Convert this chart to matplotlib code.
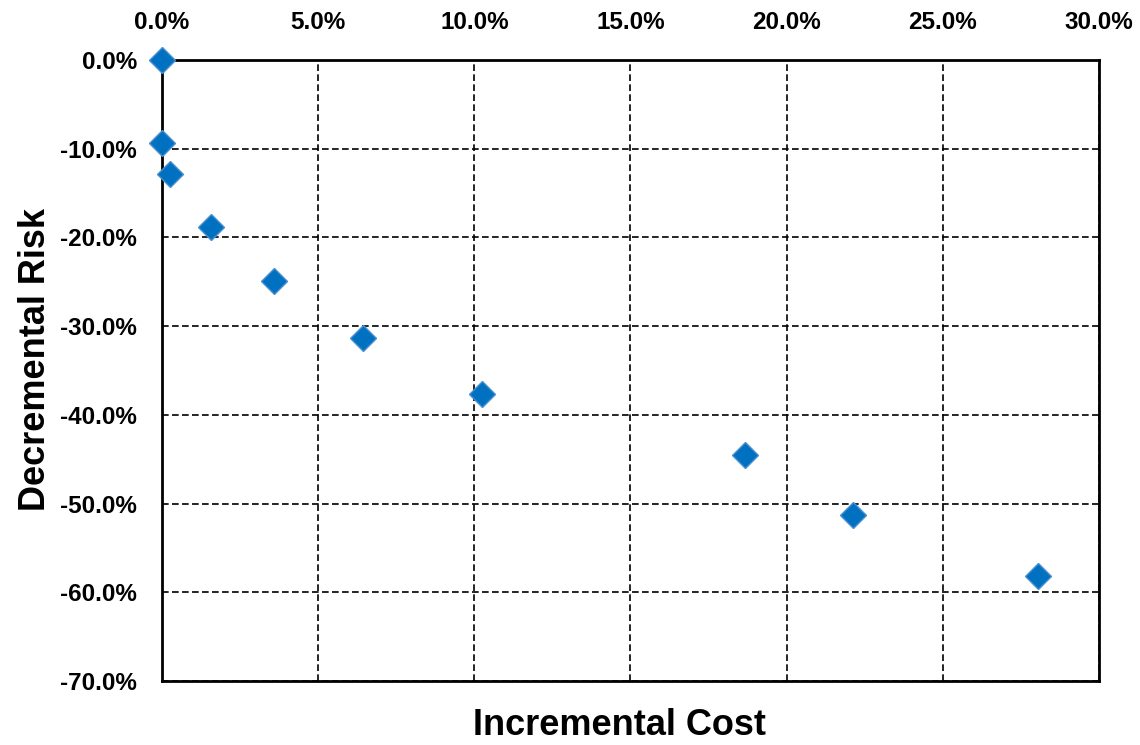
import matplotlib
matplotlib.use("Agg")
import matplotlib.pyplot as plt
from matplotlib.ticker import FuncFormatter

plt.rcParams['font.family'] = ['Liberation Sans', 'DejaVu Sans']

incremental_cost = [0.0, 0.0, 0.26, 1.57, 3.59, 6.44, 10.25, 18.67, 22.13, 28.05]
decremental_risk = [0.0, -9.4, -12.9, -18.8, -24.9, -31.3, -37.7, -44.5, -51.3, -58.2]
x_ticks = [0, 5, 10, 15, 20, 25, 30]
y_ticks = [0, -10, -20, -30, -40, -50, -60, -70]

fig = plt.figure(figsize=(11.4, 7.45), dpi=100)
ax = fig.add_axes([0.1421, 0.0859, 0.8219, 0.8336])

ax.plot(incremental_cost, decremental_risk, linestyle='none', marker='D',
        markersize=13.5, markerfacecolor='#0070C0', markeredgecolor='#4A8FD0',
        markeredgewidth=1.0, clip_on=False, zorder=5)

ax.set_xlim(0, 30)
ax.set_ylim(-70, 0)
ax.set_xticks(x_ticks)
ax.set_yticks(y_ticks)
fmt = FuncFormatter(lambda v, p: f"{v:.1f}%")
ax.xaxis.set_major_formatter(fmt)
ax.yaxis.set_major_formatter(fmt)
ax.xaxis.tick_top()
ax.tick_params(axis='x', length=0, pad=19, labelsize=17.5)
ax.tick_params(axis='y', length=0, pad=18, labelsize=17.5)
for lbl in ax.get_xticklabels() + ax.get_yticklabels():
    lbl.set_fontweight('bold')

ax.grid(True, color='black', linestyle=(0, (4, 2)), linewidth=1.2)
ax.set_axisbelow(True)
for s in ax.spines.values():
    s.set_linewidth(2)
    s.set_color('black')

fig.text(0.543, 0.0135, 'Incremental Cost', ha='center', va='baseline',
         fontsize=26, fontweight='bold')
fig.text(0.031, 0.517, 'Decremental Risk', ha='center', va='center',
         fontsize=26, fontweight='bold', rotation=90)

fig.savefig('out.png', dpi=100)
